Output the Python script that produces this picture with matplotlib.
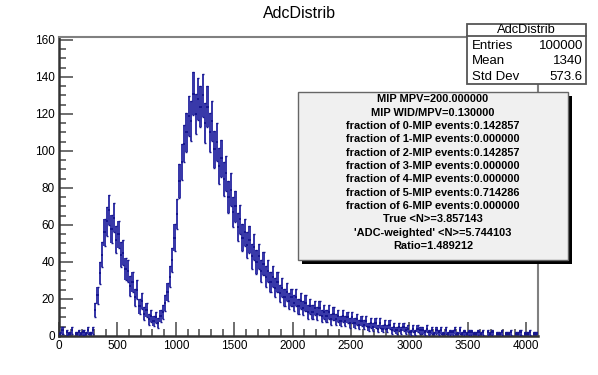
import numpy as np
import matplotlib.pyplot as plt
from matplotlib.patches import Rectangle
from matplotlib.ticker import MultipleLocator

plt.rcParams['font.family'] = ['Liberation Sans', 'DejaVu Sans']

# bin centres (20 ADC wide) and contents
bin_width = 20
adc = np.arange(10, 4100, bin_width)
counts = [
    1, 3, 0, 2, 1, 3, 0, 1, 2, 1,
    2, 1, 3, 1, 3, 14, 22, 34, 44, 56,
    62, 68, 58, 64, 52, 55, 44, 45, 36, 35,
    27, 29, 21, 25, 16, 19, 12, 14, 9, 11,
    8, 10, 7, 11, 13, 18, 24, 32, 41, 53,
    66, 84, 94, 104, 110, 119, 116, 131, 120, 128,
    124, 130, 115, 124, 110, 116, 101, 105, 92, 96,
    85, 88, 75, 79, 67, 70, 59, 63, 53, 56,
    49, 52, 43, 48, 40, 43, 35, 39, 32, 35,
    29, 32, 26, 29, 23, 26, 21, 24, 19, 21,
    18, 21, 16, 19, 15, 18, 13, 16, 13, 15,
    12, 15, 11, 13, 11, 13, 9, 12, 9, 11,
    8, 11, 8, 10, 7, 10, 7, 9, 6, 8,
    6, 8, 5, 7, 5, 7, 4, 7, 4, 6,
    4, 6, 3, 5, 3, 5, 3, 5, 3, 4,
    2, 4, 2, 4, 3, 3, 2, 4, 2, 3,
    1, 3, 2, 3, 1, 3, 1, 2, 2, 3,
    1, 3, 1, 2, 1, 2, 2, 1, 1, 2,
    1, 2, 0, 2, 1, 2, 0, 1, 1, 2,
    0, 1, 1, 2, 0, 1, 1, 2, 0, 1,
    1, 2, 0, 1, 1,
]
counts = np.array(counts, dtype=float)
errors = np.sqrt(counts)

stats_labels = ['Entries', 'Mean', 'Std Dev']
stats_values = ['100000', '1340', '573.6']

info_lines = [
    'MIP MPV=200.000000',
    'MIP WID/MPV=0.130000',
    'fraction of 0-MIP events:0.142857',
    'fraction of 1-MIP events:0.000000',
    'fraction of 2-MIP events:0.142857',
    'fraction of 3-MIP events:0.000000',
    'fraction of 4-MIP events:0.000000',
    'fraction of 5-MIP events:0.714286',
    'fraction of 6-MIP events:0.000000',
    'True <N>=3.857143',
    "'ADC-weighted' <N>=5.744103",
    'Ratio=1.489212',
]

W, H = 598, 375
fig = plt.figure(figsize=(W / 100, H / 100), dpi=100)
ax = fig.add_axes([59 / W, 1 - 336 / H, (538 - 59) / W, (336 - 37) / H])

nz = counts > 0
# error band drawn bin by bin, plus the dark bin-content marks
ax.bar(adc[nz], 2 * errors[nz], width=bin_width, bottom=counts[nz] - errors[nz],
       color='#3939a9', linewidth=0, zorder=2)
ax.hlines(counts[nz], adc[nz] - bin_width / 2, adc[nz] + bin_width / 2,
          color='#10108a', lw=1.2, zorder=3)
ax.hlines(counts[nz] + errors[nz], adc[nz] - bin_width * 0.45, adc[nz] + bin_width * 0.45,
          color='#16168e', lw=1.0, zorder=3)
ax.hlines(counts[nz] - errors[nz], adc[nz] - bin_width * 0.45, adc[nz] + bin_width * 0.45,
          color='#16168e', lw=1.0, zorder=3)

ax.set_xlim(0, 4100)
ax.set_ylim(0, 161.6)
ax.xaxis.set_major_locator(MultipleLocator(500))
ax.xaxis.set_minor_locator(MultipleLocator(100))
ax.yaxis.set_major_locator(MultipleLocator(20))
ax.yaxis.set_minor_locator(MultipleLocator(5))
ax.tick_params(which='both', direction='in', top=False, right=False,
               color='#555555', width=1.2, labelsize=8.5, pad=3)
ax.tick_params(which='major', length=10)
ax.tick_params(which='minor', length=5)
for s in ['left', 'bottom']:
    ax.spines[s].set_color('#333333')
    ax.spines[s].set_linewidth(1.8)
for s in ['top', 'right']:
    ax.spines[s].set_color('#808080')
    ax.spines[s].set_linewidth(1.5)

fig.text(0.5, 1 - 13 / H, 'AdcDistrib', ha='center', va='center', fontsize=11.5)


def px(x, y):
    return x / W, 1 - y / H


# stats box
x0, y0 = px(467, 84)
x1, y1 = px(586, 24)
fig.patches.append(Rectangle((x0, y0), x1 - x0, y1 - y0, transform=fig.transFigure,
                             facecolor='white', edgecolor='#555555', lw=1.3, zorder=10))
sy = px(0, 36)[1]
fig.lines.append(plt.Line2D([x0, x1], [sy, sy], transform=fig.transFigure,
                            color='#555555', lw=1.3, zorder=11))
fig.text((x0 + x1) / 2, px(0, 30)[1], 'AdcDistrib', ha='center', va='center',
         fontsize=9.3, zorder=12)
for i, (lab, val) in enumerate(zip(stats_labels, stats_values)):
    yy = px(0, 46 + 15.5 * i)[1]
    fig.text(px(472, 0)[0], yy, lab, ha='left', va='center', fontsize=9.5, zorder=12)
    fig.text(px(583, 0)[0], yy, val, ha='right', va='center', fontsize=9.5, zorder=12)

# info box with shadow
bx0, by0 = px(298, 260)
bx1, by1 = px(568, 92)
shx, shy = 4 / W, 4 / H
fig.patches.append(Rectangle((bx0 + shx, by0 - shy), bx1 - bx0, by1 - by0,
                             transform=fig.transFigure, facecolor='black',
                             edgecolor='black', lw=0, zorder=10))
fig.patches.append(Rectangle((bx0, by0), bx1 - bx0, by1 - by0, transform=fig.transFigure,
                             facecolor='#f0f0f0', edgecolor='#666666', lw=1.0, zorder=11))
for i, line in enumerate(info_lines):
    fig.text((bx0 + bx1) / 2, px(0, 99.3 + 13.34 * i)[1], line, ha='center', va='center',
             fontsize=7.9, fontweight='bold', zorder=12)

fig.savefig('out.png', dpi=100, facecolor='white')
